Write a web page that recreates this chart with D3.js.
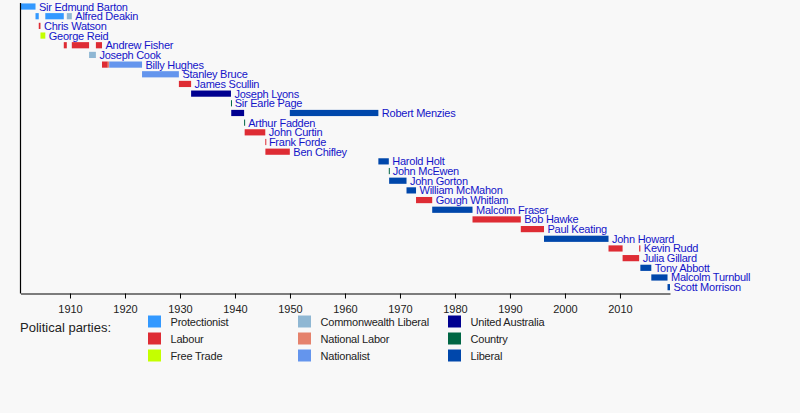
<!DOCTYPE html>
<html><head><meta charset="utf-8">
<script src="https://cdn.jsdelivr.net/npm/d3@7"></script>
<style>
html,body{margin:0;padding:0;background:#f8f8f8;}
text{font-family:"Liberation Sans",Arial,sans-serif;}
</style></head>
<body>
<svg id="chart" width="800" height="413"></svg>
<script>
// ---- data ----
const primeMinisters = ["Sir Edmund Barton","Alfred Deakin","Chris Watson","George Reid","Andrew Fisher","Joseph Cook","Billy Hughes","Stanley Bruce","James Scullin","Joseph Lyons","Sir Earle Page","Robert Menzies","Arthur Fadden","John Curtin","Frank Forde","Ben Chifley","Harold Holt","John McEwen","John Gorton","William McMahon","Gough Whitlam","Malcolm Fraser","Bob Hawke","Paul Keating","John Howard","Kevin Rudd","Julia Gillard","Tony Abbott","Malcolm Turnbull","Scott Morrison"];
// [prime minister, start year, end year, party]
const terms = [
  ["Sir Edmund Barton",1901.00,1903.73,"Protectionist"],
  ["Alfred Deakin",1903.73,1904.32,"Protectionist"],
  ["Alfred Deakin",1905.51,1908.87,"Protectionist"],
  ["Alfred Deakin",1909.42,1910.33,"Commonwealth Liberal"],
  ["Chris Watson",1904.32,1904.63,"Labour"],
  ["George Reid",1904.63,1905.51,"Free Trade"],
  ["Andrew Fisher",1908.87,1909.42,"Labour"],
  ["Andrew Fisher",1910.33,1913.47,"Labour"],
  ["Andrew Fisher",1914.71,1915.82,"Labour"],
  ["Joseph Cook",1913.47,1914.71,"Commonwealth Liberal"],
  ["Billy Hughes",1915.82,1916.87,"Labour"],
  ["Billy Hughes",1916.87,1917.13,"National Labor"],
  ["Billy Hughes",1917.13,1923.10,"Nationalist"],
  ["Stanley Bruce",1923.10,1929.80,"Nationalist"],
  ["James Scullin",1929.80,1932.02,"Labour"],
  ["Joseph Lyons",1932.02,1939.27,"United Australia"],
  ["Sir Earle Page",1939.27,1939.32,"Country"],
  ["Robert Menzies",1939.32,1941.66,"United Australia"],
  ["Robert Menzies",1949.97,1966.07,"Liberal"],
  ["Arthur Fadden",1941.66,1941.76,"Country"],
  ["John Curtin",1941.76,1945.51,"Labour"],
  ["Frank Forde",1945.51,1945.53,"Labour"],
  ["Ben Chifley",1945.53,1949.97,"Labour"],
  ["Harold Holt",1966.07,1967.97,"Liberal"],
  ["John McEwen",1967.97,1968.03,"Country"],
  ["John Gorton",1968.03,1971.19,"Liberal"],
  ["William McMahon",1971.19,1972.92,"Liberal"],
  ["Gough Whitlam",1972.92,1975.86,"Labour"],
  ["Malcolm Fraser",1975.86,1983.19,"Liberal"],
  ["Bob Hawke",1983.19,1991.97,"Labour"],
  ["Paul Keating",1991.97,1996.19,"Labour"],
  ["John Howard",1996.19,2007.92,"Liberal"],
  ["Kevin Rudd",2007.92,2010.48,"Labour"],
  ["Kevin Rudd",2013.49,2013.71,"Labour"],
  ["Julia Gillard",2010.48,2013.49,"Labour"],
  ["Tony Abbott",2013.71,2015.70,"Liberal"],
  ["Malcolm Turnbull",2015.70,2018.65,"Liberal"],
  ["Scott Morrison",2018.65,2019.10,"Liberal"]
];
const yearDomain = [1901.0, 2019.1];
const tickYears = [1910,1920,1930,1940,1950,1960,1970,1980,1990,2000,2010];
const legendTitle = "Political parties:";
const parties = ["Protectionist","Labour","Free Trade","Commonwealth Liberal","National Labor","Nationalist","United Australia","Country","Liberal"];
const partyColors = ["#3399ff","#de2c34","#c4ff00","#8fb7d3","#e5826c","#6495ed","#000090","#006644","#0047ab"];

// ---- drawing ----
const svg = d3.select("#chart");
svg.append("rect").attr("width",800).attr("height",413).attr("fill","#f8f8f8");

const x = d3.scaleLinear().domain(yearDomain).range([20.5, 670]);
const y = d3.scaleBand().domain(primeMinisters).range([1.5, 292.2]).paddingInner(0.36).paddingOuter(0.2);
const color = d3.scaleOrdinal().domain(parties).range(partyColors);

// bars
svg.append("g").selectAll("rect").data(terms).join("rect")
  .attr("x", d => x(d[1]))
  .attr("width", d => Math.max(1, x(d[2]) - x(d[1])))
  .attr("y", d => y(d[0]))
  .attr("height", y.bandwidth())
  .attr("fill", d => color(d[3]));

// labels after last bar
const lastEnd = d3.rollup(terms, v => d3.max(v, d => d[2]), d => d[0]);
svg.append("g").selectAll("text").data(primeMinisters).join("text")
  .attr("x", d => x(lastEnd.get(d)) + 3.5)
  .attr("y", d => y(d) + y.bandwidth()/2 + 4)
  .attr("font-size", 11)
  .attr("letter-spacing", -0.25)
  .attr("fill", "#1414c8")
  .text(d => d);

// axes
const axisY = 293.5;
const xAxis = d3.axisBottom(x).tickValues(tickYears).tickFormat(d3.format("d")).tickSize(5).tickSizeOuter(0);
const gx = svg.append("g").attr("transform", `translate(0,${axisY})`).call(xAxis);
gx.select(".domain").attr("stroke","#000").attr("stroke-width",1.2);
gx.selectAll(".tick line").attr("stroke","#000");
gx.selectAll(".tick text").attr("font-size",11).attr("fill","#222").attr("font-family","Liberation Sans, Arial, sans-serif").attr("dy","1.05em");
svg.append("line").attr("x1",20.5).attr("x2",20.5).attr("y1",3).attr("y2",axisY).attr("stroke","#000").attr("stroke-width",1.2);

// legend
svg.append("text").attr("x",20).attr("y",332).attr("font-size",13).attr("fill","#222").text(legendTitle);
const leg = svg.append("g").selectAll("g").data(parties).join("g")
  .attr("transform",(d,i)=>`translate(${148 + Math.floor(i/3)*150},${315.5 + (i%3)*17})`);
leg.append("rect").attr("width",13).attr("height",12).attr("fill",d=>color(d));
leg.append("text").attr("x",22.5).attr("y",10.5).attr("font-size",11).attr("fill","#222").attr("letter-spacing",-0.2).text(d=>d);
</script>
</body></html>
